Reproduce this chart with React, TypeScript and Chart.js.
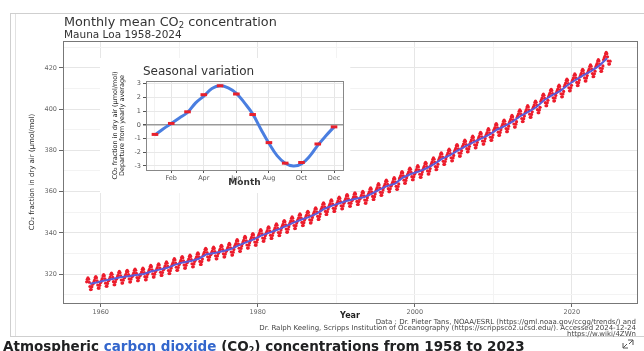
import React, { useEffect, useRef } from 'react';
import { Chart, registerables } from 'chart.js';
Chart.register(...registerables);

// ---- Data ----
const years = [
  1958, 1959, 1960, 1961, 1962, 1963, 1964, 1965, 1966, 1967, 1968, 1969,
  1970, 1971, 1972, 1973, 1974, 1975, 1976, 1977, 1978, 1979, 1980, 1981,
  1982, 1983, 1984, 1985, 1986, 1987, 1988, 1989, 1990, 1991, 1992, 1993,
  1994, 1995, 1996, 1997, 1998, 1999, 2000, 2001, 2002, 2003, 2004, 2005,
  2006, 2007, 2008, 2009, 2010, 2011, 2012, 2013, 2014, 2015, 2016, 2017,
  2018, 2019, 2020, 2021, 2022, 2023, 2024,
];
const annualMeanPpm = [
  315.3, 315.98, 316.91, 317.64, 318.45, 318.99, 319.62, 320.04, 321.37, 322.18, 323.05, 324.62,
  325.68, 326.32, 327.46, 329.68, 330.19, 331.13, 332.03, 333.84, 335.41, 336.84, 338.76, 340.12,
  341.48, 343.15, 344.87, 346.35, 347.61, 349.31, 351.69, 353.2, 354.45, 355.7, 356.54, 357.21,
  358.96, 360.97, 362.74, 363.88, 366.84, 368.54, 369.71, 371.32, 373.45, 375.98, 377.7, 379.98,
  382.09, 384.02, 385.83, 387.64, 390.1, 391.85, 394.06, 396.74, 398.81, 401.01, 404.41, 406.76,
  408.72, 411.65, 414.21, 416.41, 418.53, 421.08, 424.6,
];
// seasonal departure from yearly average, Jan..Dec (red points of the inset)
const seasonalDeparture = [-0.7, 0.1, 0.95, 2.2, 2.85, 2.25, 0.75, -1.3, -2.8, -2.75, -1.4, -0.15];
// blue fitted curve of the inset, read at half-month steps
const curveMonths = [1, 1.5, 2, 2.5, 3, 3.5, 4, 4.5, 5, 5.5, 6, 6.5, 7, 7.5, 8, 8.5, 9, 9.5, 10, 10.5, 11, 11.5, 12];
const curveDeparture = [-0.75, -0.3, 0.1, 0.5, 0.9, 1.6, 2.1, 2.65, 2.85, 2.7, 2.3, 1.6, 0.8, -0.3, -1.35, -2.25, -2.8, -3.0, -2.85, -2.3, -1.5, -0.8, -0.15];
const firstMonth1958 = 2; // March
const lastMonth2024 = 10; // November

const xTickLabels = [1960, 1980, 2000, 2020];
const yTickLabels = [320, 340, 360, 380, 400, 420];
const insetMonthLabels: Record<number, string> = { 2: 'Feb', 4: 'Apr', 6: 'Jun', 8: 'Aug', 10: 'Oct', 12: 'Dec' };
const insetYTicks = [-3, -2, -1, 0, 1, 2, 3];

const FONT = "'DejaVu Sans', sans-serif";

const boxPlugin = (color: string) => ({
  id: 'plotBox',
  afterDraw(chart: any) {
    const { ctx, chartArea: a } = chart;
    ctx.save();
    ctx.strokeStyle = color;
    ctx.lineWidth = 1;
    ctx.strokeRect(Math.round(a.left) + 0.5, Math.round(a.top) + 0.5, Math.round(a.right - a.left), Math.round(a.bottom - a.top));
    ctx.restore();
  },
});

function MainChart() {
  const ref = useRef<HTMLCanvasElement>(null);
  useEffect(() => {
    const monthly: { x: number; y: number }[] = [];
    years.forEach((yr, i) => {
      for (let m = 0; m < 12; m++) {
        if (yr === 1958 && m < firstMonth1958) continue;
        if (yr === 2024 && m > lastMonth2024) continue;
        monthly.push({ x: yr + (m + 0.5) / 12, y: annualMeanPpm[i] + seasonalDeparture[m] });
      }
    });
    const trend = years.map((yr, i) => ({ x: yr + (yr === 1958 ? 0.6 : 0.5), y: annualMeanPpm[i] }));
    const chart = new Chart(ref.current!, {
      type: 'scatter',
      data: {
        datasets: [
          {
            data: trend,
            showLine: true,
            borderColor: '#5b5bd8',
            borderWidth: 2,
            pointRadius: 0,
            tension: 0,
          } as any,
          {
            data: monthly,
            showLine: false,
            pointRadius: 1.6,
            backgroundColor: '#ec1c2c',
            borderWidth: 0,
          },
        ],
      },
      options: {
        animation: false,
        responsive: false,
        maintainAspectRatio: false,
        layout: { padding: { left: 0, top: 41, right: 7, bottom: 28 } },
        plugins: { legend: { display: false }, tooltip: { enabled: false } },
        scales: {
          x: {
            type: 'linear',
            min: 1955.2,
            max: 2028.3,
            afterFit: (s: any) => { s.height = 20; },
            ticks: {
              stepSize: 10,
              includeBounds: false,
              autoSkip: false,
              maxRotation: 0,
              padding: 1,
              color: '#666',
              font: { family: FONT, size: 6.5 },
              callback: (v: any) => (xTickLabels.includes(Number(v)) ? String(v) : ''),
            },
            grid: {
              color: (c: any) => (xTickLabels.includes(c.tick?.value) ? '#e6e6e6' : '#f3f3f3'),
              tickColor: (c: any) => (xTickLabels.includes(c.tick?.value) ? '#666' : 'rgba(0,0,0,0)'),
              tickLength: 4,
            },
            border: { display: true, color: '#777' },
            title: {
              display: true,
              text: 'Year',
              color: '#222',
              font: { family: FONT, size: 8, weight: 'bold' },
              padding: { top: 0, bottom: 2 },
            },
          },
          y: {
            type: 'linear',
            min: 306,
            max: 433,
            afterFit: (s: any) => { s.width = 63; },
            ticks: {
              stepSize: 10,
              includeBounds: false,
              autoSkip: false,
              padding: 2,
              color: '#666',
              font: { family: FONT, size: 6.5 },
              callback: (v: any) => (yTickLabels.includes(Number(v)) ? String(v) : ''),
            },
            grid: {
              color: (c: any) => (yTickLabels.includes(c.tick?.value) ? '#e6e6e6' : '#f3f3f3'),
              tickColor: (c: any) => (yTickLabels.includes(c.tick?.value) ? '#666' : 'rgba(0,0,0,0)'),
              tickLength: 4,
            },
            border: { display: true, color: '#777' },
            title: {
              display: true,
              text: 'CO₂ fraction in dry air (μmol/mol)',
              color: '#222',
              font: { family: FONT, size: 7 },
              padding: { top: 28, bottom: 0 },
            },
          },
        },
      },
      plugins: [boxPlugin('#777')],
    } as any);
    return () => chart.destroy();
  }, []);
  return (
    <canvas
      ref={ref}
      width={644}
      height={351}
      style={{ position: 'absolute', left: 0, top: 0, width: 644, height: 351 }}
    />
  );
}

function InsetChart() {
  const ref = useRef<HTMLCanvasElement>(null);
  useEffect(() => {
    const points = seasonalDeparture.map((v, i) => ({ x: i + 1, y: v }));
    const curve = curveMonths.map((m, i) => ({ x: m, y: curveDeparture[i] }));
    const chart = new Chart(ref.current!, {
      type: 'scatter',
      data: {
        datasets: [
          {
            data: points,
            showLine: false,
            pointStyle: 'line',
            pointRadius: 3.3,
            borderWidth: 3,
            borderColor: '#e8202c',
            backgroundColor: '#e8202c',
          } as any,
          {
            data: curve,
            showLine: true,
            borderColor: '#4a7ee0',
            borderWidth: 3,
            pointRadius: 0,
            tension: 0.4,
          },
        ],
      },
      options: {
        animation: false,
        responsive: false,
        maintainAspectRatio: false,
        layout: { padding: { left: 0, top: 23, right: 7, bottom: 3 } },
        plugins: { legend: { display: false }, tooltip: { enabled: false } },
        scales: {
          x: {
            type: 'linear',
            min: 0.45,
            max: 12.55,
            afterFit: (s: any) => { s.height = 20; },
            ticks: {
              stepSize: 1,
              includeBounds: false,
              autoSkip: false,
              maxRotation: 0,
              padding: 1,
              color: '#555',
              font: { family: FONT, size: 6.5 },
              callback: (v: any) => insetMonthLabels[Number(v)] ?? '',
            },
            grid: {
              color: (c: any) => (insetMonthLabels[c.tick?.value] ? '#e6e6e6' : '#f2f2f2'),
              tickColor: (c: any) => (insetMonthLabels[c.tick?.value] ? '#555' : 'rgba(0,0,0,0)'),
              tickLength: 3,
            },
            border: { display: true, color: '#888' },
            title: {
              display: true,
              text: 'Month',
              color: '#333',
              font: { family: FONT, size: 9, weight: 'bold' },
              padding: { top: 0, bottom: 2 },
            },
          },
          y: {
            type: 'linear',
            min: -3.3,
            max: 3.2,
            afterFit: (s: any) => { s.width = 46; },
            ticks: {
              stepSize: 1,
              includeBounds: false,
              autoSkip: false,
              padding: 2,
              color: '#555',
              font: { family: FONT, size: 6.5 },
              callback: (v: any) => (insetYTicks.includes(Number(v)) ? String(v) : ''),
            },
            grid: {
              color: (c: any) => (c.tick?.value === 0 ? '#9a9a9a' : '#e8e8e8'),
              lineWidth: (c: any) => (c.tick?.value === 0 ? 1.5 : 1),
              tickColor: '#555',
              tickLength: 3,
            },
            border: { display: true, color: '#888' },
            title: {
              display: true,
              text: ['CO₂ fraction in dry air (μmol/mol)', 'Departure from yearly average'],
              color: '#222',
              font: { family: FONT, size: 6.5 },
              padding: { top: 11, bottom: 0 },
            },
          },
        },
      },
      plugins: [boxPlugin('#888')],
    } as any);
    return () => chart.destroy();
  }, []);
  return (
    <canvas
      ref={ref}
      width={250}
      height={135}
      style={{ position: 'absolute', left: 100, top: 58, width: 250, height: 135, background: '#fff' }}
    />
  );
}

export default function App() {
  return (
    <div style={{ position: 'absolute', left: 0, top: 0, width: 644, height: 351, overflow: 'hidden', background: '#fff', fontFamily: FONT }}>
      <div style={{ position: 'absolute', left: 10, top: 13, width: 660, height: 324, border: '1px solid #cfcfcf', boxSizing: 'border-box' }} />
      <div style={{ position: 'absolute', left: 15, top: 14, width: 1, height: 322, background: '#e2e2e2' }} />
      <MainChart />
      <InsetChart />
      <div style={{ position: 'absolute', left: 64, top: 14, fontSize: 12.8, color: '#333', whiteSpace: 'nowrap', lineHeight: '15px' }}>
        Monthly mean CO<sub style={{ fontSize: 8.5, verticalAlign: -2, lineHeight: 0 }}>2</sub> concentration
      </div>
      <div style={{ position: 'absolute', left: 64, top: 29, fontSize: 10.5, color: '#333', whiteSpace: 'nowrap', lineHeight: '11px' }}>
        Mauna Loa 1958-2024
      </div>
      <div style={{ position: 'absolute', left: 143, top: 65, fontSize: 12, color: '#333', whiteSpace: 'nowrap', lineHeight: '13px' }}>
        Seasonal variation
      </div>
      <div style={{ position: 'absolute', left: 0, top: 319, width: 636, textAlign: 'right', fontSize: 7, lineHeight: '6px', color: '#444', whiteSpace: 'nowrap' }}>
        <div>Data : Dr. Pieter Tans, NOAA/ESRL (https://gml.noaa.gov/ccgg/trends/) and</div>
        <div>Dr. Ralph Keeling, Scripps Institution of Oceanography (https://scrippsco2.ucsd.edu/). Accessed 2024-12-24</div>
        <div>https://w.wiki/4ZWn</div>
      </div>
      <div style={{ position: 'absolute', left: 3, top: 339, fontSize: 13.5, fontWeight: 'bold', color: '#202122', whiteSpace: 'nowrap', lineHeight: '14px' }}>
        Atmospheric <span style={{ color: '#3366cc' }}>carbon dioxide</span> (CO<sub style={{ fontSize: 8, verticalAlign: -2, lineHeight: 0 }}>2</sub>) concentrations from 1958 to 2023
      </div>
      <svg style={{ position: 'absolute', left: 622, top: 339 }} width={12} height={10} viewBox="0 0 12 10">
        <path d="M1 9 L1 4 M1 9 L6 9 M1 9 L5 5 M11 1 L11 6 M11 1 L6 1 M11 1 L7 5" stroke="#555" strokeWidth={1} fill="none" />
      </svg>
    </div>
  );
}
